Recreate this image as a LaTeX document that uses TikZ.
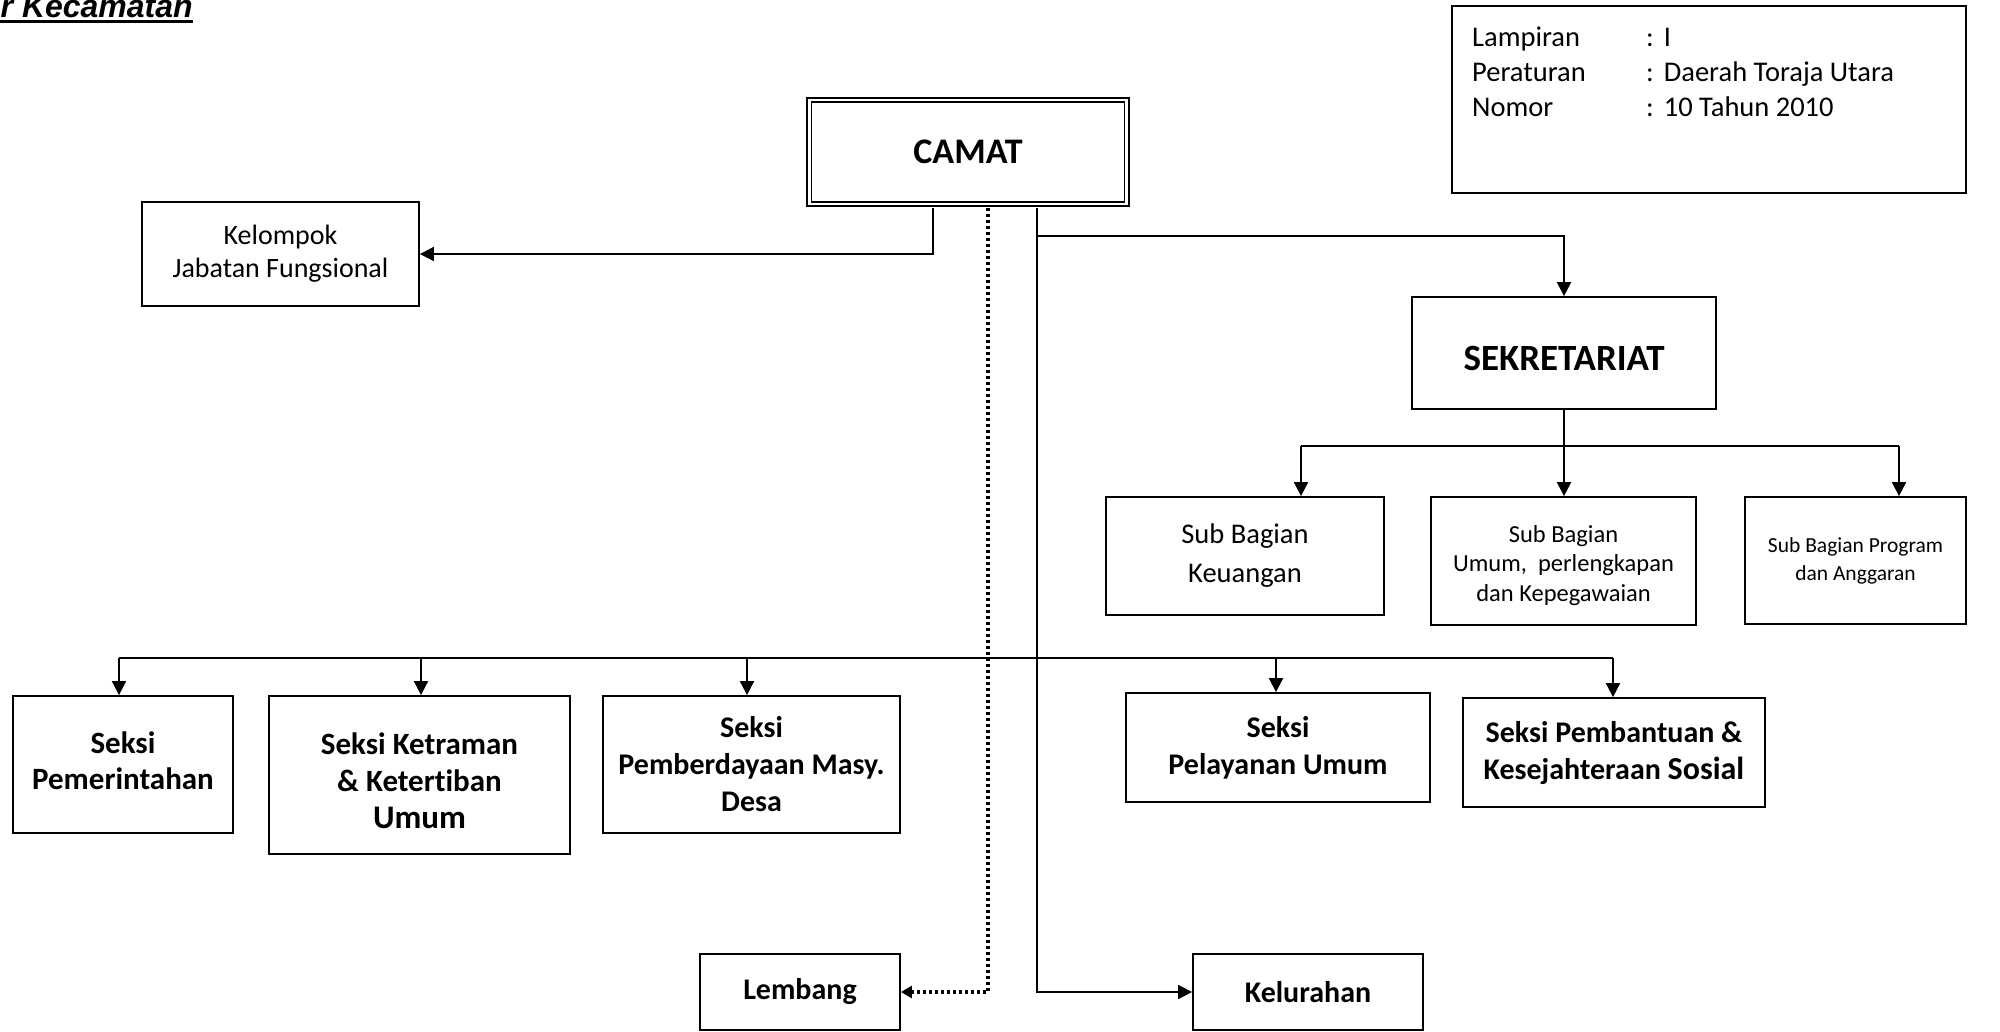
\documentclass[tikz,border=0pt]{standalone}
\usepackage{fontspec}
\setmainfont{Carlito}[Ligatures=NoCommon]
\newfontfamily\arialfont{Liberation Sans}
\usetikzlibrary{arrows.meta}
\newcommand{\fsz}[2]{\fontsize{#1}{#2}\selectfont}
\newcommand{\shiftbox}[2]{\raisebox{#1}[\height][\depth]{#2}}
\begin{document}
\begin{tikzpicture}[x=1pt,y=-1pt,
  box/.style={draw, line width=1.8pt, inner sep=0pt, align=center, fill=white},
  conn/.style={line width=1.8pt},
  arr/.style={conn, -{Triangle[length=14pt,width=14pt]}},
  dotarr/.style={line width=3.5pt, dash pattern=on 3pt off 3pt, -{Triangle[length=11pt,width=12pt]}},
  seksi/.style={box, font=\bfseries\fsz{30}{37}},
]
\useasboundingbox (0,0) rectangle (2000,1031);
\clip (0,0) rectangle (2000,1031);

% title
\node[anchor=base east, inner sep=0pt, font=\arialfont\bfseries\itshape\fsz{32}{36}] (title) at (193,17) {r Kecamatan};
\draw[line width=3.5pt] (0,21.5) -- (title.east |- 0,21.5);

% Lampiran box
\node[box, minimum width=514pt, minimum height=187pt] (lamp) at (1709,99.5) {};
\node[anchor=north west, inner sep=0pt, font=\fsz{28.5}{35}, align=left] (lamptxt) at (1472,21.5)
  {\begin{tabular}{@{}p{174pt}@{}l@{}}Lampiran & :\hspace{10pt}I\\ Peraturan & :\hspace{10pt}Daerah Toraja Utara\\ Nomor & :\hspace{10pt}10 Tahun 2010\end{tabular}};

% CAMAT
\node[draw, line width=1.8pt, double, double distance=2.6pt, inner sep=0pt, minimum width=317.5pt, minimum height=104pt, font=\bfseries\fsz{36}{40}] (camat) at (968,152) {CAMAT};

% Kelompok
\node[box, minimum width=277pt, minimum height=104pt, font=\fsz{28}{33}] (kjf) at (280.5,254) {Kelompok\\Jabatan Fungsional};

% Sekretariat
\node[box, minimum width=304pt, minimum height=112pt, font=\bfseries\fsz{37}{40}] (sekr) at (1564,353) {\shiftbox{-5pt}{SEKRETARIAT}};

% Sub bagian
\node[box, minimum width=278pt, minimum height=118pt, font=\fsz{28.5}{39}] (keu) at (1245,556) {Sub Bagian\\Keuangan};
\node[box, minimum width=265pt, minimum height=128pt, font=\fsz{24.5}{29.5}] (umum) at (1563.5,561) {\shiftbox{-5pt}{\begin{tabular}{@{}c@{}}Sub Bagian\\Umum,\ \ perlengkapan\\dan Kepegawaian\end{tabular}}};
\node[box, minimum width=221pt, minimum height=127pt, font=\fsz{21.5}{28}] (prog) at (1855.5,560.5) {Sub Bagian Program\\dan Anggaran};

% Seksi
\node[seksi, minimum width=220pt, minimum height=137pt, font=\bfseries\fsz{31}{36}] (pem) at (123,764.5) {\shiftbox{0.5pt}{\begin{tabular}{@{}c@{}}Seksi\\Pemerintahan\end{tabular}}};
\node[seksi, minimum width=301pt, minimum height=158pt, font=\bfseries\fsz{31}{37}] (ket) at (419.5,775) {\shiftbox{-9pt}{\begin{tabular}{@{}c@{}}Seksi Ketraman\\\& Ketertiban\\{\fsz{33}{40}Umum}\end{tabular}}};
\node[seksi, minimum width=297pt, minimum height=137pt] (pmd) at (751.5,764.5) {Seksi\\Pemberdayaan Masy.\\Desa};
\node[seksi, minimum width=304pt, minimum height=109pt] (pel) at (1278,747.5) {Seksi\\Pelayanan Umum};
\node[seksi, minimum width=302pt, minimum height=109pt] (bant) at (1614,752.5) {Seksi Pembantuan \&\\Kesejahteraan {\fsz{32}{37}Sosial}};

% Lembang, Kelurahan
\node[box, minimum width=200pt, minimum height=76pt, font=\bfseries\fsz{30}{36}] (lem) at (800,992) {Lembang};
\node[box, minimum width=230pt, minimum height=76pt, font=\bfseries\fsz{30}{36}] (kel) at (1308,992) {Kelurahan};

% connectors from CAMAT
\draw[arr, shorten <=3.5pt] (camat.south -| 933,0) |- (kjf.east);
\draw[dotarr, shorten <=3.5pt] (camat.south -| 988,0) |- (lem.east);
\draw[arr, shorten <=3.5pt] (camat.south -| 1037,0) |- (kel.west);
\coordinate (bs) at (1037,236);
\draw[arr] (bs) -| (sekr.north);

% sekretariat bus
\coordinate (sb) at (1564,446);
\draw[conn] (sekr.south) -- (sb);
\draw[conn] (1301,446) -- (1899,446);
\draw[arr] (1301,446) -- (keu.north -| 1301,0);
\draw[arr] (sb) -- (umum.north -| sb);
\draw[arr] (1899,446) -- (prog.north -| 1899,0);

% seksi bus
\coordinate (busl) at (119,658);
\coordinate (busr) at (1613,658);
\draw[conn] (busl) -- (busr);
\draw[arr] (busl) -- (pem.north -| busl);
\draw[arr] (421,658) -- (ket.north -| 421,0);
\draw[arr] (747,658) -- (pmd.north -| 747,0);
\draw[arr] (1276,658) -- (pel.north -| 1276,0);
\draw[arr] (busr) -- (bant.north -| busr);
\end{tikzpicture}
\end{document}
